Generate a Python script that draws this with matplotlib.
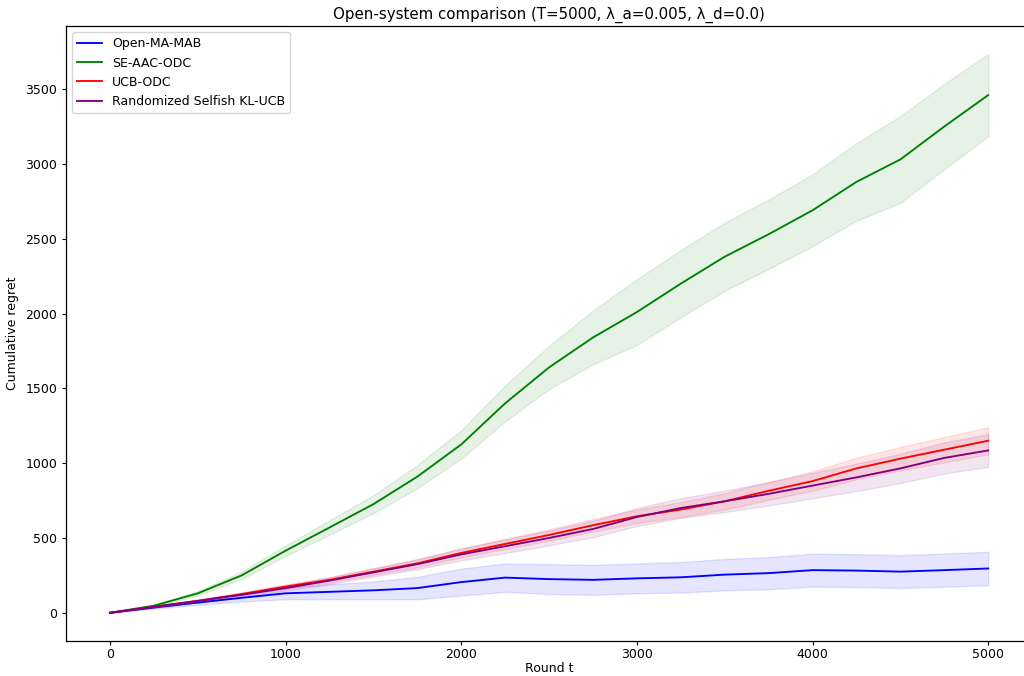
import matplotlib
matplotlib.use('Agg')
import matplotlib.pyplot as plt
import numpy as np

plt.rcParams['font.size'] = 9
plt.rcParams['lines.linewidth'] = 1.35
plt.rcParams['axes.linewidth'] = 0.9
plt.rcParams['xtick.major.size'] = 3.2
plt.rcParams['ytick.major.size'] = 3.2
plt.rcParams['xtick.major.pad'] = 2.2
plt.rcParams['ytick.major.pad'] = 3.0

# rounds at which the averaged regret was logged
rounds = [0, 250, 500, 750, 1000, 1250, 1500, 1750, 2000, 2250, 2500,
          2750, 3000, 3250, 3500, 3750, 4000, 4250, 4500, 4750, 5000]

# mean cumulative regret per algorithm
open_ma_mab = [0, 35, 68, 100, 130, 140, 150, 165, 205, 235, 225,
               220, 230, 237, 255, 265, 285, 282, 275, 285, 296]
se_aac_odc = [0, 47, 130, 250, 415, 570, 726, 910, 1125, 1400, 1640,
              1840, 2010, 2200, 2380, 2530, 2690, 2880, 3030, 3250, 3460]
ucb_odc = [0, 40, 78, 125, 175, 220, 275, 330, 400, 460, 520,
           585, 645, 690, 745, 815, 880, 965, 1030, 1090, 1150]
rs_kl_ucb = [0, 40, 80, 120, 165, 215, 270, 325, 390, 445, 500,
             560, 640, 700, 745, 795, 850, 905, 965, 1035, 1085]

# standard deviation across runs
open_ma_mab_std = [0, 8, 15, 25, 40, 50, 60, 75, 90, 95, 100,
                   100, 100, 102, 105, 108, 110, 110, 110, 111, 112]
se_aac_odc_std = [0, 8, 15, 25, 35, 48, 60, 78, 95, 120, 145,
                  180, 220, 225, 228, 232, 240, 260, 290, 285, 275]
ucb_odc_std = [0, 4, 8, 11, 15, 18, 22, 26, 30, 34, 38,
               42, 45, 50, 55, 60, 65, 72, 78, 84, 90]
rs_kl_ucb_std = [0, 5, 9, 14, 18, 23, 28, 34, 40, 45, 50,
                 55, 60, 66, 72, 78, 85, 92, 98, 104, 110]

series = [
    ('Open-MA-MAB', open_ma_mab, open_ma_mab_std, 'blue'),
    ('SE-AAC-ODC', se_aac_odc, se_aac_odc_std, 'green'),
    ('UCB-ODC', ucb_odc, ucb_odc_std, 'red'),
    ('Randomized Selfish KL-UCB', rs_kl_ucb, rs_kl_ucb_std, 'purple'),
]

fig = plt.figure(figsize=(10.24, 6.76), dpi=100)
# axes run slightly past the right edge of the canvas
ax = fig.add_axes([0.0645, 0.0522, 0.9434, 0.9093])

t = np.array(rounds)
for name, mean, std, color in series:
    mean = np.array(mean, dtype=float)
    std = np.array(std, dtype=float)
    ax.plot(t, mean, color=color, label=name)
    ax.fill_between(t, mean - std, mean + std, color=color, alpha=0.1)

ax.set_xlabel('Round t', labelpad=0.5)
ax.set_ylabel('Cumulative regret', labelpad=5)
ax.set_title('Open-system comparison (T=5000, λ_a=0.005, λ_d=0.0)', pad=5.5)
ax.legend(loc='upper left')

fig.savefig('out.png', dpi=100)
